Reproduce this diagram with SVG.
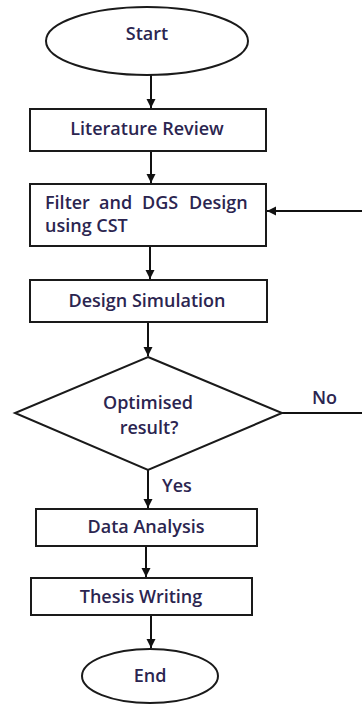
<svg xmlns="http://www.w3.org/2000/svg" width="362" height="704" viewBox="0 0 362 704">
<defs>
<marker id="ah" markerWidth="10" markerHeight="10" refX="9" refY="5" orient="auto" markerUnits="userSpaceOnUse">
<path d="M0,0.5 L9,5 L0,9.5 Z" fill="#111"/>
</marker>
</defs>
<style>
.shape{fill:#fff;stroke:#1a1a1a;stroke-width:2}
.t{font-family:"Open Sans","Liberation Sans",sans-serif;font-weight:600;font-size:18px;fill:#2b2550}
.c{text-anchor:middle}
.line{fill:none;stroke:#111;stroke-width:2}
</style>
<rect width="362" height="704" fill="#fff"/>
<g id="connectors">
<line class="line" x1="151" y1="75" x2="151" y2="108" marker-end="url(#ah)"/>
<line class="line" x1="151" y1="151" x2="151" y2="183" marker-end="url(#ah)"/>
<line class="line" x1="150" y1="246" x2="150" y2="279" marker-end="url(#ah)"/>
<line class="line" x1="148" y1="322" x2="148" y2="356" marker-end="url(#ah)"/>
<line class="line" x1="148" y1="470" x2="148" y2="508" marker-end="url(#ah)"/>
<line class="line" x1="146" y1="546" x2="146" y2="577" marker-end="url(#ah)"/>
<line class="line" x1="151" y1="615" x2="151" y2="648" marker-end="url(#ah)"/>
<polyline class="line" points="282,413 362,413"/>
<line class="line" x1="362" y1="211" x2="267" y2="211" marker-end="url(#ah)"/>
<text class="t" x="312" y="404">No</text>
<text class="t" x="162" y="492">Yes</text>
</g>
<g id="start">
<ellipse class="shape" cx="147" cy="41" rx="101" ry="34"/>
<text class="t c" x="147" y="40">Start</text>
</g>
<g id="literature">
<rect class="shape" x="30" y="109" width="236" height="42"/>
<text class="t c" x="147" y="135">Literature Review</text>
</g>
<g id="filter">
<rect class="shape" x="30" y="184" width="236" height="62"/>
<text class="t" y="209"><tspan x="45">Filter</tspan><tspan x="99">and</tspan><tspan x="142">DGS</tspan><tspan x="189">Design</tspan></text>
<text class="t" x="45" y="232">using CST</text>
</g>
<g id="simulation">
<rect class="shape" x="30" y="280" width="237" height="42"/>
<text class="t c" x="147" y="307">Design Simulation</text>
</g>
<g id="decision">
<polygon class="shape" points="148,357 282,413 148,470 15,413"/>
<text class="t c" x="148" y="409">Optimised</text>
<text class="t c" x="149" y="434">result?</text>
</g>
<g id="analysis">
<rect class="shape" x="36" y="509" width="221" height="37"/>
<text class="t c" x="146" y="533">Data Analysis</text>
</g>
<g id="thesis">
<rect class="shape" x="31" y="578" width="221" height="37"/>
<text class="t c" x="141" y="603">Thesis Writing</text>
</g>
<g id="end">
<ellipse class="shape" cx="150" cy="676" rx="68" ry="27"/>
<text class="t c" x="150" y="682">End</text>
</g>
</svg>
